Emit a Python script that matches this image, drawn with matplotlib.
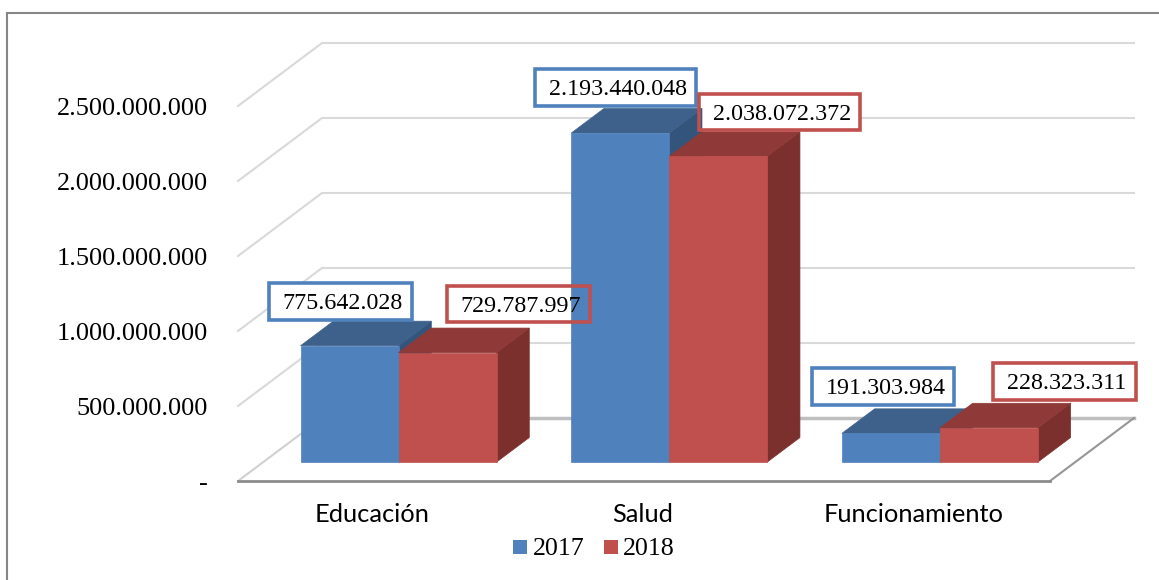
import matplotlib
matplotlib.use("Agg")
import matplotlib.pyplot as plt
from matplotlib.patches import Polygon, Rectangle

categories = ["Educación", "Salud", "Funcionamiento"]
values_2017 = [775642028, 2193440048, 191303984]
values_2018 = [729787997, 2038072372, 228323311]
y_ticks = [0, 500000000, 1000000000, 1500000000, 2000000000, 2500000000]
y_tick_labels = ["-", "500.000.000", "1.000.000.000", "1.500.000.000", "2.000.000.000", "2.500.000.000"]
series_names = ["2017", "2018"]

W, H = 1159, 580
SERIF = "Liberation Serif"
SANS = "Lato"

fig = plt.figure(figsize=(W / 100, H / 100), dpi=100)
# front plane of the fake 3d box, in picture pixels
ax = fig.add_axes([238 / W, 1 - 481 / H, 812 / W, 375 / H])
ax.set_xlim(0, 3)
ax.set_ylim(0, 2500000000)
ax.axis("off")


def fig_x(px):
    return px / W


def fig_y(py):
    return 1 - py / H


# depth runs 0..1 from the front to the back wall
dx_depth = 84 / (812 / 3)
dy_depth = 63 / 375 * 2500000000


def proj(x, y, d=0.0):
    return (x + d * dx_depth, y + d * dy_depth)


# back wall grid and side wall lines
for t in y_ticks[1:]:
    ax.plot(*zip(proj(0, t, 0), proj(0, t, 1), proj(3, t, 1)), color="#d9d9d9", lw=1.5,
            clip_on=False, zorder=1)
ax.plot(*zip(proj(0, 0, 0), proj(0, 0, 1)), color="#d0d0d0", lw=1.5, clip_on=False, zorder=1)

# floor
ax.plot(*zip(proj(0, 0, 1), proj(3, 0, 1)), color="#bfbfbf", lw=2.5, clip_on=False, zorder=1.5)
ax.plot(*zip(proj(3, 0, 1), proj(3, 0, 0)), color="#969696", lw=1.5, clip_on=False, zorder=1.5)
ax.plot(*zip(proj(0, 0, 0), proj(3, 0, 0)), color="#8c8c8c", lw=2, clip_on=False, zorder=1.5)

# bars
bar_w = 0.362
d0, d1 = 0.30, 0.69
colors = [("#4f81bd", "#3e618c", "#33557c"), ("#c0504d", "#8f3a38", "#7b302e")]


def draw_bar(x0, val, cols, z):
    x1 = x0 + bar_w
    front, top, side = cols
    ax.add_patch(Polygon([proj(x1, 0, d0), proj(x1, 0, d1), proj(x1, val, d1), proj(x1, val, d0)],
                         fc=side, ec=side, lw=0.5, clip_on=False, zorder=z))
    ax.add_patch(Polygon([proj(x0, val, d0), proj(x1, val, d0), proj(x1, val, d1), proj(x0, val, d1)],
                         fc=top, ec=top, lw=0.5, clip_on=False, zorder=z))
    ax.add_patch(Polygon([proj(x0, 0, d0), proj(x1, 0, d0), proj(x1, val, d0), proj(x0, val, d0)],
                         fc=front, ec=front, lw=0.5, clip_on=False, zorder=z + 0.1))


for i in range(len(categories)):
    draw_bar(i + 0.5 - bar_w, values_2017[i], colors[0], 2 + i)
    draw_bar(i + 0.5, values_2018[i], colors[1], 2.5 + i)

# axis labels
for t, lab in zip(y_ticks, y_tick_labels):
    ax.annotate(lab, (0, t), xytext=(-30, -3), textcoords="offset pixels", ha="right", va="center",
                family=SERIF, fontsize=18.9, color="black", annotation_clip=False)
for i, c in enumerate(categories):
    ax.annotate(c, (i + 0.5, 0), xytext=(-1, -34), textcoords="offset pixels", ha="center", va="center",
                family=SANS, fontsize=18.3, color="black", annotation_clip=False)

# hand placed data label boxes: left, top, right, bottom in picture pixels
boxes_2017 = [(269, 283, 412, 320), (535, 69, 696, 106), (812, 368, 954, 405)]
boxes_2018 = [(447, 286, 590, 322), (699, 94, 860, 130), (993, 363, 1136, 400)]
text_x_2017 = [343, 618, 886]
text_x_2018 = [521, 782, 1067]
# the Salud bar shows through the fill of two boxes, so those fills sit under it
fill_z_2017 = [10, 10, 10]
fill_z_2018 = [2.9, 2.9, 10]


def label_box(box, tx, val, col, fill_z):
    l, t, r, b = box
    ax.add_patch(Rectangle((fig_x(l), fig_y(b)), (r - l) / W, (b - t) / H, transform=fig.transFigure,
                           fc="white", ec="none", clip_on=False, zorder=fill_z))
    fig.add_artist(Rectangle((fig_x(l), fig_y(b)), (r - l) / W, (b - t) / H, transform=fig.transFigure,
                             fc="none", ec=col, lw=2.6, zorder=10))
    txt = f"{val:,}".replace(",", ".")
    fig.text(fig_x(tx), fig_y((t + b) / 2 + 2), txt, ha="center", va="center", family=SERIF,
             fontsize=17.3, color="black", zorder=11)


for i in range(3):
    label_box(boxes_2017[i], text_x_2017[i], values_2017[i], "#4f81bd", fill_z_2017[i])
    label_box(boxes_2018[i], text_x_2018[i], values_2018[i], "#c0504d", fill_z_2018[i])

# legend
for lx, tx, name, cols in [(513, 533, series_names[0], colors[0]), (604, 623, series_names[1], colors[1])]:
    fig.add_artist(Rectangle((fig_x(lx), fig_y(554)), 14 / W, 14 / H, transform=fig.transFigure,
                             fc=cols[0], ec="none"))
    fig.text(fig_x(tx), fig_y(549), name, ha="left", va="center", family=SERIF, fontsize=18.7, color="black")

# outer frame, right and bottom edges fall off the picture
fig.add_artist(Rectangle((fig_x(6.5), fig_y(590)), (1175 - 6.5) / W, (590 - 13) / H, transform=fig.transFigure,
                         fc="none", ec="#868686", lw=1.5, zorder=20))

fig.savefig("out.png", dpi=100)
